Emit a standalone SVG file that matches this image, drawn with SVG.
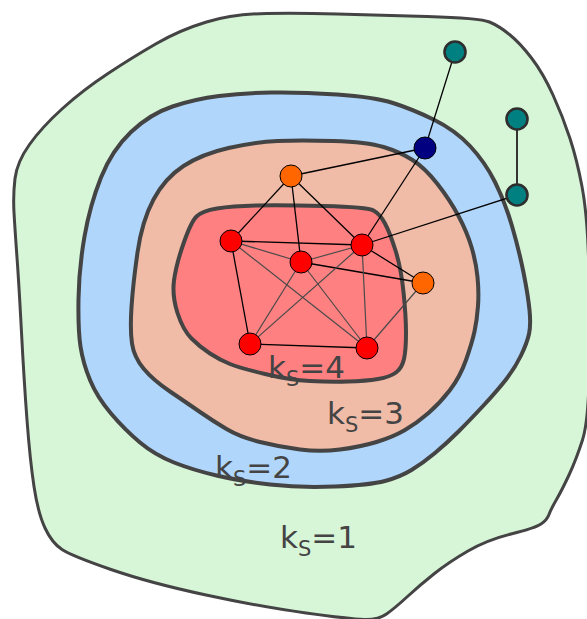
<svg xmlns="http://www.w3.org/2000/svg" width="587" height="619" viewBox="0 0 587 619">
<style>
.ring{stroke:#444;stroke-linejoin:round}
.e{stroke:#000;stroke-width:1.3;fill:none}
.g{stroke:#4a4a4a;stroke-width:1.2;fill:none}
.n{stroke:#000;stroke-width:1}
.red{fill:#ff0000}
.org{fill:#ff6600}
.navy{fill:#000080}
.teal{fill:#008080;stroke:#2e2e2e;stroke-width:2.6}
.lbl{font-family:"DejaVu Sans",sans-serif;font-size:31px;fill:#444}
.sub{font-size:21px}
</style>
<g id="regions">
<path id="shell1" class="ring" fill="#d7f5d7" stroke-width="3" d="M14,212.5 Q13,195 15,178.5 Q17,162 29.5,144.5 Q42,127 62.5,108.5 Q83,90 108,73.5 Q133,57 156.5,43.5 Q180,30 206.5,22 Q233,14 266.5,13.5 Q300,13 337,14 Q374,15 427,16.5 Q480,18 489.5,22 Q499,26 509.5,34.5 Q520,43 531.5,58 Q543,73 553,95 Q563,117 570,138.5 Q577,160 582,186.5 Q587,213 588.5,256.5 Q590,300 589.5,360 Q589,420 582.5,440 Q576,460 569,475 Q562,490 556.5,499.5 Q551,509 549,514.5 Q547,520 541,524 Q535,528 511,534 Q487,540 468,551 Q449,562 434.5,573.5 Q420,585 407.5,596.5 Q395,608 386.5,614 Q378,620 364,619.5 Q350,619 306,613 Q262,607 206,595 Q150,583 111,569.5 Q72,556 62,549.5 Q52,543 45,528 Q38,513 34,486.5 Q30,460 27,420 Q24,380 21.5,332.5 Q19,285 17,257.5 Q15,230 14,212.5 Z"/>
<path id="shell2" class="ring" fill="#b0d6fb" stroke-width="4" d="M271.5,92.5 Q300,92 337,94.5 Q374,97 393,103 Q412,109 433.5,119.5 Q455,130 470,146 Q485,162 495,182 Q505,202 512,226 Q519,250 523.5,272.5 Q528,295 529.5,310 Q531,325 529,334 Q527,343 521,355.5 Q515,368 506,379.5 Q497,391 483.5,405.5 Q470,420 458.5,431.5 Q447,443 435,453 Q423,463 411.5,470 Q400,477 385,481 Q370,485 335,486.5 Q300,488 270,484.5 Q240,481 216.5,475.5 Q193,470 174,462.5 Q155,455 140,442.5 Q125,430 111,413.5 Q97,397 90,380 Q83,363 80.5,346.5 Q78,330 78.5,299 Q79,268 84.5,236.5 Q90,205 101,177.5 Q112,150 131,132 Q150,114 172.5,106.5 Q195,99 219,96 Q243,93 271.5,92.5 Z"/>
<path id="shell3" class="ring" fill="#f0bba7" stroke-width="4" d="M277.5,141 Q300,140 333.5,141 Q367,142 383.5,147 Q400,152 412.5,160 Q425,168 437.5,184 Q450,200 458.5,216 Q467,232 471.5,247 Q476,262 477.5,277 Q479,292 478,306 Q477,320 474.5,331.5 Q472,343 466,360 Q460,377 450,390 Q440,403 428.5,413 Q417,423 405,430 Q393,437 376.5,442 Q360,447 340,449.5 Q320,452 300,449.5 Q280,447 260,442 Q240,437 226.5,429 Q213,421 200,412 Q187,403 170,391.5 Q153,380 143.5,368.5 Q134,357 132,343.5 Q130,330 131.5,307 Q133,284 137.5,252.5 Q142,221 153.5,199.5 Q165,178 183.5,166 Q202,154 228.5,148 Q255,142 277.5,141 Z"/>
<path id="shell4" class="ring" fill="#ff8080" stroke-width="4" d="M256.5,205.5 Q281,205 324,206 Q367,207 373.5,210.5 Q380,214 385,223.5 Q390,233 395.5,250.5 Q401,268 403.5,292 Q406,316 406,333 Q406,350 404,359 Q402,368 396,372.5 Q390,377 378,379 Q366,381 348,381.5 Q330,382 310,381 Q290,380 265,374 Q240,368 230,364 Q220,360 210,353.5 Q200,347 191.5,338.5 Q183,330 177.5,313 Q172,296 174,280.5 Q176,265 183.5,243.5 Q191,222 196.5,216.5 Q202,211 217,208.5 Q232,206 256.5,205.5 Z"/>
</g>
<g id="connectors">
<line class="e" x1="455" y1="52" x2="425" y2="148"/>
<line x1="517" y1="119" x2="517" y2="195" stroke="#333" stroke-width="2"/>
<line class="e" x1="517" y1="195" x2="362" y2="245"/>
<line class="e" x1="425" y1="148" x2="291" y2="176"/>
<line class="e" x1="425" y1="148" x2="362" y2="245"/>
<line class="e" x1="291" y1="176" x2="231" y2="241"/>
<line class="e" x1="291" y1="176" x2="301" y2="262"/>
<line class="e" x1="291" y1="176" x2="362" y2="245"/>
<line class="e" x1="231" y1="241" x2="362" y2="245"/>
<line class="e" x1="231" y1="241" x2="250" y2="344"/>
<line class="e" x1="301" y1="262" x2="423" y2="283"/>
<line class="e" x1="362" y1="245" x2="423" y2="283"/>
<line class="e" x1="250" y1="344" x2="367" y2="348"/>
<line class="g" x1="231" y1="241" x2="301" y2="262"/>
<line class="g" x1="231" y1="241" x2="367" y2="348"/>
<line class="g" x1="301" y1="262" x2="362" y2="245"/>
<line class="g" x1="301" y1="262" x2="250" y2="344"/>
<line class="g" x1="301" y1="262" x2="367" y2="348"/>
<line class="g" x1="362" y1="245" x2="250" y2="344"/>
<line class="g" x1="362" y1="245" x2="367" y2="348"/>
<line class="g" x1="423" y1="283" x2="367" y2="348" stroke-width="1"/>
</g>
<g id="n-teal1"><circle class="teal" cx="455" cy="52" r="10.5"/></g>
<g id="n-teal2"><circle class="teal" cx="517" cy="119" r="10.5"/></g>
<g id="n-teal3"><circle class="teal" cx="517" cy="195" r="10.5"/></g>
<g id="n-navy"><circle class="n navy" cx="425" cy="148" r="11"/></g>
<g id="n-orange1"><circle class="n org" cx="291" cy="176" r="11"/></g>
<g id="n-orange2"><circle class="n org" cx="423" cy="283" r="11"/></g>
<g id="n-redA"><circle class="n red" cx="231" cy="241" r="11"/></g>
<g id="n-redB"><circle class="n red" cx="301" cy="262" r="11"/></g>
<g id="n-redC"><circle class="n red" cx="362" cy="245" r="11"/></g>
<g id="n-redD"><circle class="n red" cx="250" cy="344" r="11"/></g>
<g id="n-redE"><circle class="n red" cx="367" cy="348" r="11"/></g>
<g id="labels">
<text class="lbl" x="268" y="378">k<tspan class="sub" dy="8">S</tspan><tspan dy="-8">=4</tspan></text>
<text class="lbl" x="327" y="424">k<tspan class="sub" dy="8">S</tspan><tspan dy="-8">=3</tspan></text>
<text class="lbl" x="215" y="478">k<tspan class="sub" dy="8">S</tspan><tspan dy="-8">=2</tspan></text>
<text class="lbl" x="280" y="548">k<tspan class="sub" dy="8">S</tspan><tspan dy="-8">=1</tspan></text>
</g>
</svg>
